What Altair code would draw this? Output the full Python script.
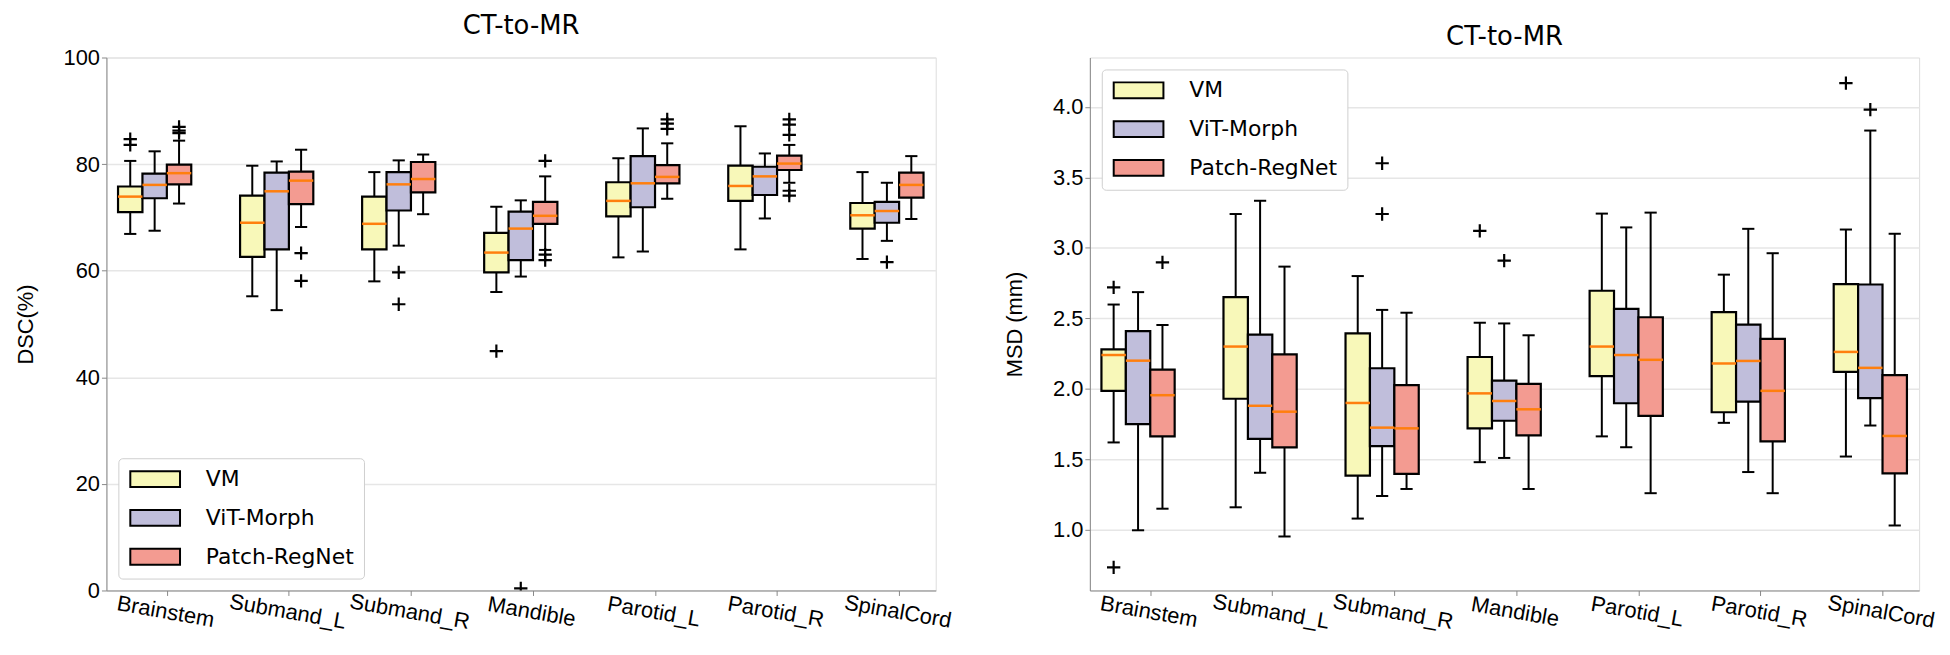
import altair as alt
import pandas as pd

categories = ["Brainstem", "Submand_L", "Submand_R", "Mandible", "Parotid_L", "Parotid_R", "SpinalCord"]
methods = ["VM", "ViT-Morph", "Patch-RegNet"]
colors = ["#f8f8b9", "#c0bedb", "#f39b91"]

# ---- DSC (%) box statistics: whisker low, Q1, median, Q3, whisker high ----
dsc_vm_lo = [66.9, 55.2, 58.0, 56.0, 62.5, 64.0, 62.2]
dsc_vm_q1 = [71.0, 62.6, 64.0, 59.7, 70.2, 73.1, 67.9]
dsc_vm_med = [73.9, 69.0, 68.8, 63.4, 73.1, 75.9, 70.4]
dsc_vm_q3 = [75.8, 74.1, 73.9, 67.1, 76.6, 79.7, 72.7]
dsc_vm_hi = [80.6, 79.7, 78.5, 72.0, 81.1, 87.1, 78.5]

dsc_vit_lo = [67.5, 52.6, 64.7, 58.9, 63.6, 69.8, 65.6]
dsc_vit_q1 = [73.6, 64.0, 71.3, 62.0, 71.9, 74.2, 69.0]
dsc_vit_med = [76.1, 74.9, 76.2, 67.9, 76.4, 77.7, 71.2]
dsc_vit_q3 = [78.2, 78.4, 78.5, 71.1, 81.5, 79.5, 72.9]
dsc_vit_hi = [82.4, 80.5, 80.7, 73.2, 86.7, 82.0, 76.5]

dsc_pr_lo = [72.6, 68.2, 70.6, 63.9, 73.5, 76.5, 69.7]
dsc_pr_q1 = [76.2, 72.5, 74.7, 68.8, 76.4, 78.9, 73.7]
dsc_pr_med = [78.3, 76.9, 77.2, 70.3, 77.6, 80.1, 76.1]
dsc_pr_q3 = [79.9, 78.6, 80.4, 72.9, 79.8, 81.6, 78.4]
dsc_pr_hi = [84.4, 82.7, 81.8, 77.7, 83.9, 83.6, 81.5]

# outliers: (category, method, value)
dsc_out_cat = ["Brainstem", "Brainstem", "Mandible", "Mandible", "Submand_R", "Submand_R",
               "SpinalCord", "Brainstem", "Brainstem", "Brainstem", "Submand_L", "Submand_L",
               "Mandible", "Mandible", "Mandible", "Parotid_L", "Parotid_L", "Parotid_L",
               "Parotid_R", "Parotid_R", "Parotid_R", "Parotid_R", "Parotid_R"]
dsc_out_met = ["VM", "VM", "VM", "ViT-Morph", "ViT-Morph", "ViT-Morph",
               "ViT-Morph", "Patch-RegNet", "Patch-RegNet", "Patch-RegNet", "Patch-RegNet", "Patch-RegNet",
               "Patch-RegNet", "Patch-RegNet", "Patch-RegNet", "Patch-RegNet", "Patch-RegNet", "Patch-RegNet",
               "Patch-RegNet", "Patch-RegNet", "Patch-RegNet", "Patch-RegNet", "Patch-RegNet"]
dsc_out_val = [84.7, 83.6, 44.9, 0.4, 59.7, 53.7,
               61.6, 87.0, 86.3, 85.8, 63.3, 58.1,
               80.6, 63.0, 62.0, 88.4, 87.6, 86.6,
               88.4, 87.4, 85.5, 75.0, 74.1]

# ---- MSD (mm) box statistics ----
msd_vm_lo = [1.62, 1.16, 1.08, 1.48, 1.663, 1.759, 1.52]
msd_vm_q1 = [1.986, 1.93, 1.384, 1.72, 2.09, 1.834, 2.12]
msd_vm_med = [2.24, 2.30, 1.90, 1.968, 2.30, 2.18, 2.262]
msd_vm_q3 = [2.28, 2.65, 2.394, 2.226, 2.696, 2.544, 2.743]
msd_vm_hi = [2.598, 3.24, 2.80, 2.469, 3.243, 2.81, 3.13]

msd_vit_lo = [0.997, 1.405, 1.24, 1.51, 1.586, 1.41, 1.74]
msd_vit_q1 = [1.75, 1.645, 1.594, 1.774, 1.898, 1.909, 1.934]
msd_vit_med = [2.20, 1.88, 1.725, 1.914, 2.24, 2.198, 2.149]
msd_vit_q3 = [2.41, 2.384, 2.146, 2.058, 2.567, 2.456, 2.74]
msd_vit_hi = [2.686, 3.334, 2.56, 2.464, 3.145, 3.135, 3.832]

msd_pr_lo = [1.15, 0.953, 1.29, 1.29, 1.26, 1.26, 1.031]
msd_pr_q1 = [1.663, 1.585, 1.397, 1.67, 1.808, 1.627, 1.40]
msd_pr_med = [1.955, 1.838, 1.72, 1.855, 2.206, 1.986, 1.666]
msd_pr_q3 = [2.136, 2.244, 2.027, 2.035, 2.508, 2.355, 2.097]
msd_pr_hi = [2.453, 2.867, 2.54, 2.38, 3.25, 2.962, 3.10]

msd_out_cat = ["Brainstem", "Brainstem", "Mandible", "SpinalCord", "Submand_R", "Submand_R",
               "Mandible", "SpinalCord", "Brainstem"]
msd_out_met = ["VM", "VM", "VM", "VM", "ViT-Morph", "ViT-Morph",
               "ViT-Morph", "ViT-Morph", "Patch-RegNet"]
msd_out_val = [2.72, 0.734, 3.12, 4.168, 3.60, 3.24, 2.91, 3.98, 2.897]

FONT = "DejaVu Sans"
FS = 22
OFFSETS = [-0.3, -0.1, 0.1]
HALF_BOX = 0.1
HALF_CAP = 0.05


def build_box_df(stats):
    rows = []
    for mi, m in enumerate(methods):
        lo, q1, med, q3, hi = stats[mi]
        for ci, c in enumerate(categories):
            pos = ci + OFFSETS[mi]
            rows.append(dict(cat=c, method=m, pos=pos,
                             xl=pos - HALF_BOX, xr=pos + HALF_BOX,
                             cl=pos - HALF_CAP, cr=pos + HALF_CAP,
                             lo=lo[ci], q1=q1[ci], med=med[ci], q3=q3[ci], hi=hi[ci]))
    return pd.DataFrame(rows)


def build_out_df(cats, mets, vals):
    rows = []
    for c, m, v in zip(cats, mets, vals):
        pos = categories.index(c) + OFFSETS[methods.index(m)]
        rows.append(dict(cat=c, method=m, pos=pos, val=v))
    return pd.DataFrame(rows)


label_expr = "[" + ",".join("'" + c + "'" for c in categories) + "][datum.value]"


def panel(box_df, out_df, ydomain, yticks, ytitle, yfmt, legend_orient):
    xscale = alt.Scale(domain=[-0.495, 6.3], nice=False, zero=False)
    xaxis = alt.Axis(values=list(range(len(categories))), labelExpr=label_expr,
                     grid=False, title=None, labelAngle=10, labelAlign="center",
                     labelBaseline="top", labelFontSize=FS, labelPadding=6)
    yscale = alt.Scale(domain=ydomain, nice=False, zero=False)
    yaxis = alt.Axis(values=yticks, format=yfmt, title=ytitle, grid=True,
                     gridColor="#e6e6e6", gridWidth=1.5, labelFontSize=FS,
                     titleFontSize=FS, titleFontWeight="normal", titlePadding=26)

    base = alt.Chart(box_df)
    whisk = base.mark_rule(color="black", strokeWidth=2).encode(
        x=alt.X("pos:Q", scale=xscale, axis=xaxis),
        y=alt.Y("lo:Q", scale=yscale, axis=yaxis),
        y2="hi:Q")
    cap_lo = base.mark_rule(color="black", strokeWidth=2).encode(
        x=alt.X("cl:Q", scale=xscale, axis=xaxis), x2="cr:Q",
        y=alt.Y("lo:Q", scale=yscale, axis=yaxis))
    cap_hi = base.mark_rule(color="black", strokeWidth=2).encode(
        x=alt.X("cl:Q", scale=xscale, axis=xaxis), x2="cr:Q",
        y=alt.Y("hi:Q", scale=yscale, axis=yaxis))
    box = base.mark_rect(stroke="black", strokeWidth=2.2, opacity=1).encode(
        x=alt.X("xl:Q", scale=xscale, axis=xaxis), x2="xr:Q",
        y=alt.Y("q1:Q", scale=yscale, axis=yaxis), y2="q3:Q",
        fill=alt.Fill("method:N", sort=methods,
                      scale=alt.Scale(domain=methods, range=colors),
                      legend=alt.Legend(
                          title=None, orient=legend_orient, offset=12,
                          fillColor="white", strokeColor="#cfcfcf", cornerRadius=4,
                          padding=10, labelFontSize=FS, labelFont=FONT,
                          symbolType="M-2.5,-0.8H2.5V0.8H-2.5Z", symbolSize=400,
                          symbolStrokeColor="black", symbolStrokeWidth=2,
                          symbolOpacity=1, symbolOffset=16, labelOffset=40,
                          rowPadding=15)))
    med = base.mark_rule(color="#ff7f0e", strokeWidth=2.5).encode(
        x=alt.X("xl:Q", scale=xscale, axis=xaxis), x2="xr:Q",
        y=alt.Y("med:Q", scale=yscale, axis=yaxis))
    outs = alt.Chart(out_df).mark_point(
        shape="M-1,0L1,0M0,-1L0,1", filled=False, color="black",
        strokeWidth=2.2, size=180, opacity=1, clip=True).encode(
        x=alt.X("pos:Q", scale=xscale, axis=xaxis),
        y=alt.Y("val:Q", scale=yscale, axis=yaxis))

    return alt.layer(whisk, cap_lo, cap_hi, box, med, outs).properties(
        width=834, height=536,
        title=alt.TitleParams("CT-to-MR", fontSize=26, fontWeight="normal",
                              font=FONT, offset=8, anchor="middle"))


dsc_box = build_box_df([
    (dsc_vm_lo, dsc_vm_q1, dsc_vm_med, dsc_vm_q3, dsc_vm_hi),
    (dsc_vit_lo, dsc_vit_q1, dsc_vit_med, dsc_vit_q3, dsc_vit_hi),
    (dsc_pr_lo, dsc_pr_q1, dsc_pr_med, dsc_pr_q3, dsc_pr_hi)])
msd_box = build_box_df([
    (msd_vm_lo, msd_vm_q1, msd_vm_med, msd_vm_q3, msd_vm_hi),
    (msd_vit_lo, msd_vit_q1, msd_vit_med, msd_vit_q3, msd_vit_hi),
    (msd_pr_lo, msd_pr_q1, msd_pr_med, msd_pr_q3, msd_pr_hi)])
dsc_out = build_out_df(dsc_out_cat, dsc_out_met, dsc_out_val)
msd_out = build_out_df(msd_out_cat, msd_out_met, msd_out_val)

left = panel(dsc_box, dsc_out, [0, 100], [0, 20, 40, 60, 80, 100], "DSC(%)", "d", "bottom-left")
right = panel(msd_box, msd_out, [0.57, 4.35], [1.0, 1.5, 2.0, 2.5, 3.0, 3.5, 4.0],
              "MSD (mm)", ".1f", "top-left")

chart = alt.hconcat(left, right, spacing=49).resolve_scale(
    x="independent", y="independent", fill="independent").resolve_legend(
    fill="independent").configure_view(
    stroke="black", strokeWidth=1.5).configure_axis(
    domainColor="black", domainWidth=1.5, tickColor="black", tickWidth=1.5,
    tickSize=7, labelColor="black", titleColor="black", labelFont=FONT,
    titleFont=FONT).configure(padding={"left": 5, "top": 2, "right": 5, "bottom": 5})

chart.save("out.html", embed_options={"renderer": "svg", "actions": False})
